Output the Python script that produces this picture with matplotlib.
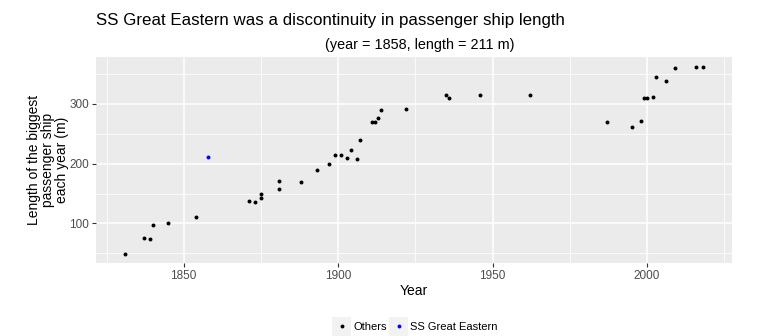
import matplotlib
matplotlib.use("Agg")
import matplotlib.pyplot as plt
from matplotlib.legend_handler import HandlerLine2D
from matplotlib.patches import Rectangle
from matplotlib.lines import Line2D

plt.rcParams['font.family'] = ['Liberation Sans', 'DejaVu Sans']

# Data
other_years = [1831, 1837, 1839, 1840, 1845, 1854, 1871, 1873, 1875, 1875,
               1881, 1881, 1888, 1893, 1897, 1899, 1901, 1903, 1904, 1906,
               1907, 1911, 1912, 1913, 1914, 1922, 1935, 1936, 1946, 1962,
               1987, 1995, 1998, 1999, 2000, 2002, 2003, 2006, 2009, 2016, 2018]
other_lengths = [49, 76, 74, 98, 100, 110, 138, 135, 149, 143,
                 171, 157, 170, 190, 200, 215, 214, 210, 222, 207,
                 240, 269, 269, 276, 290, 291, 314, 310, 314, 315,
                 270, 261, 272, 310, 310, 311, 345, 338, 360, 362, 361]
ge_year = [1858]
ge_length = [211]

x_ticks = [1850, 1900, 1950, 2000]
y_ticks = [100, 200, 300]

W, H = 769, 336
fig = plt.figure(figsize=(W / 100, H / 100), dpi=100)
left, right, top, bottom = 96, 731.7, 57.3, 263.3
ax = fig.add_axes([left / W, 1 - bottom / H, (right - left) / W, (bottom - top) / H])
ax.set_facecolor('#EBEBEB')
for s in ax.spines.values():
    s.set_visible(False)

ax.set_xlim(1821.6, 2027.4)
ax.set_ylim(33.4, 377.6)
ax.set_xticks(x_ticks)
ax.set_yticks(y_ticks)
ax.set_xticks([1825, 1875, 1925, 1975, 2025], minor=True)
ax.set_yticks([50, 150, 250, 350], minor=True)
ax.grid(which='major', color='white', linewidth=1.1)
ax.grid(which='minor', color='white', linewidth=0.55)
ax.set_axisbelow(True)
ax.tick_params(which='major', length=3, width=0.8, color='#333333',
               labelcolor='#4D4D4D', labelsize=8.5, pad=2)
ax.tick_params(which='minor', length=0)

ax.scatter(other_years, other_lengths, s=8, color='black', linewidths=0, zorder=3)
ax.scatter(ge_year, ge_length, s=8, color='blue', linewidths=0, zorder=3)

ax.set_xlabel('Year', fontsize=10, labelpad=1)
ax.set_ylabel('Length of the biggest\npassenger ship\neach year (m)', fontsize=10,
              labelpad=0, linespacing=1.0)

fig.text(96 / W, 1 - 21 / H, 'SS Great Eastern was a discontinuity in passenger ship length',
         fontsize=12.2, ha='left', va='center')
fig.text(420 / W, 1 - 45 / H, '(year = 1858, length = 211 m)',
         fontsize=10.4, ha='center', va='center')


class KeyHandler(HandlerLine2D):
    def create_artists(self, legend, orig_handle, xdescent, ydescent,
                       width, height, fontsize, trans):
        arts = super().create_artists(legend, orig_handle, xdescent, ydescent,
                                      width, height, fontsize, trans)
        pad = (width - height) / 2
        rect = Rectangle((-xdescent, -ydescent - pad), width, height + 2 * pad,
                         facecolor='#F2F2F2', edgecolor='none', transform=trans)
        return [rect] + list(arts)


h1 = Line2D([], [], marker='o', linestyle='none', color='black', markersize=2.8, markeredgewidth=0)
h2 = Line2D([], [], marker='o', linestyle='none', color='blue', markersize=2.8, markeredgewidth=0)
fig.legend([h1, h2], ['Others', 'SS Great Eastern'], loc='center',
           bbox_to_anchor=(415 / W, 1 - 327 / H), ncol=2, frameon=False,
           fontsize=8, handlelength=1.7, handletextpad=0.2, columnspacing=0.2,
           handler_map={Line2D: KeyHandler()})

fig.savefig('out.png', dpi=100)
